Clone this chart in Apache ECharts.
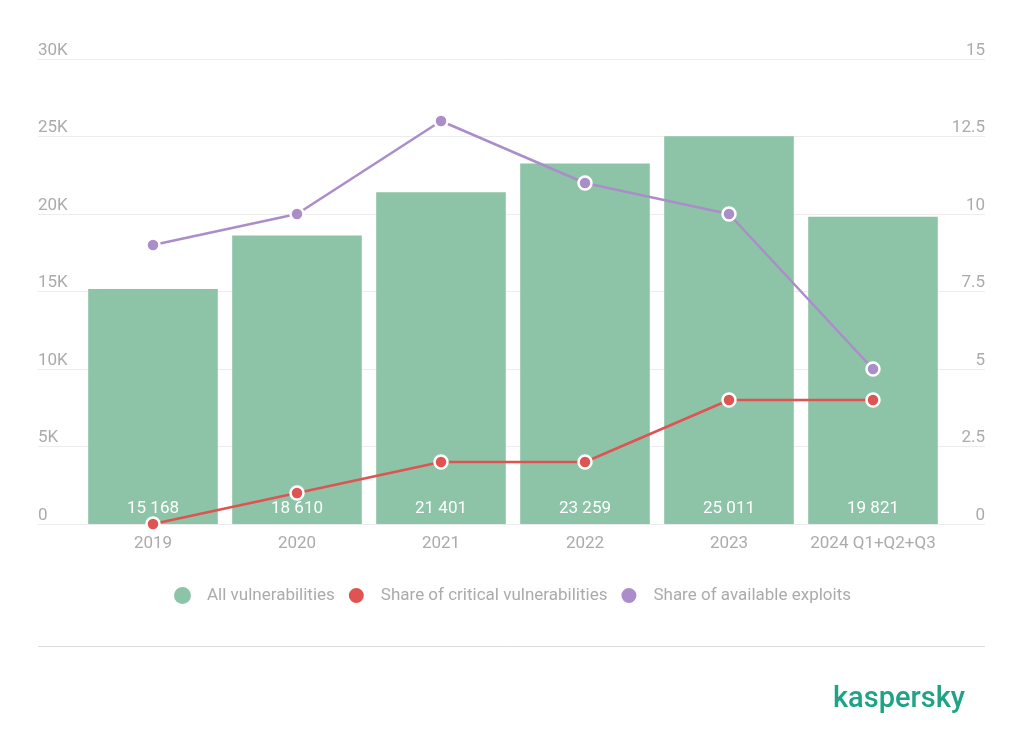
<!DOCTYPE html>
<html>
<head>
<meta charset="utf-8">
<script src="https://cdn.jsdelivr.net/npm/echarts@6/dist/echarts.min.js"></script>
<style>
html,body{margin:0;padding:0;background:#fff;}
#c{width:1024px;height:751px;}
</style>
</head>
<body>
<div id="c"></div>
<script>
const categories = ['2019', '2020', '2021', '2022', '2023', '2024 Q1+Q2+Q3'];
const allVulnerabilities = [15168, 18610, 21401, 23259, 25011, 19821];
const criticalShare = [0, 1, 2, 2, 4, 4];
const exploitsShare = [9, 10, 13, 11, 10, 5];
const seriesNames = ['All vulnerabilities', 'Share of critical vulnerabilities', 'Share of available exploits'];
const leftMax = 30000, leftInterval = 5000;
const rightMax = 15, rightInterval = 2.5;

const GREEN = '#8dc3a7', RED = '#e05353', PURPLE = '#ab8dca';
const LABEL = '#ababab';
const FONT = 'Roboto';

function fmtSpace(v) {
  return String(v).replace(/\B(?=(\d{3})+(?!\d))/g, ' ');
}

const chart = echarts.init(document.getElementById('c'), null, {renderer: 'canvas'});
chart.setOption({
  animation: false,
  backgroundColor: '#fff',
  textStyle: {fontFamily: FONT},
  grid: [
    {left: 38, right: 39, top: 59, bottom: 227},
    {left: 81, right: 79, top: 59, bottom: 227}
  ],
  xAxis: [
    {gridIndex: 0, type: 'category', data: categories, show: false},
    {
      gridIndex: 1, type: 'category', data: categories,
      axisLine: {show: false}, axisTick: {show: false},
      axisLabel: {color: LABEL, fontSize: 17, fontFamily: FONT, margin: 11, interval: 0}
    }
  ],
  yAxis: [
    {
      gridIndex: 0, type: 'value', min: 0, max: leftMax, interval: leftInterval, position: 'left',
      axisLine: {show: false}, axisTick: {show: false},
      splitLine: {lineStyle: {color: '#ececec', width: 1}},
      axisLabel: {
        inside: true, margin: 0, verticalAlign: 'bottom', lineHeight: 17, padding: [0, 0, 0, 0],
        color: LABEL, fontSize: 17, fontFamily: FONT,
        formatter: v => v === 0 ? '0' : (v / 1000) + 'K'
      }
    },
    {
      gridIndex: 0, type: 'value', min: 0, max: rightMax, interval: rightInterval, position: 'right',
      axisLine: {show: false}, axisTick: {show: false}, splitLine: {show: false},
      axisLabel: {
        inside: true, margin: 0, verticalAlign: 'bottom', lineHeight: 17, padding: [0, 0, 0, 0],
        color: LABEL, fontSize: 17, fontFamily: FONT,
        formatter: v => String(v)
      }
    },
    {gridIndex: 1, type: 'value', min: 0, max: leftMax, interval: leftInterval, show: false, splitLine: {show: false}},
    {gridIndex: 1, type: 'value', min: 0, max: rightMax, interval: rightInterval, show: false, splitLine: {show: false}}
  ],
  legend: {
    bottom: 141, left: 169,
    icon: 'circle', itemWidth: 17, itemHeight: 17, itemGap: 12,
    textStyle: {color: LABEL, fontSize: 17, fontFamily: FONT, padding: [0, 0, 0, 11]},
    data: seriesNames.map(n => ({name: n, icon: 'circle'}))
  },
  series: [
    {
      name: seriesNames[0], type: 'bar', xAxisIndex: 1, yAxisIndex: 2,
      data: allVulnerabilities, barCategoryGap: '10%',
      itemStyle: {color: GREEN},
      label: {
        show: true, position: 'insideBottom', distance: 7,
        color: '#fff', fontSize: 17, fontFamily: FONT,
        formatter: p => fmtSpace(p.value)
      },
      z: 2
    },
    {
      name: seriesNames[1], type: 'line', xAxisIndex: 1, yAxisIndex: 3,
      data: criticalShare, symbol: 'circle', symbolSize: 13,
      lineStyle: {color: RED, width: 2.5},
      itemStyle: {color: RED, borderColor: '#fff', borderWidth: 2.5},
      z: 4
    },
    {
      name: seriesNames[2], type: 'line', xAxisIndex: 1, yAxisIndex: 3,
      data: exploitsShare, symbol: 'circle', symbolSize: 13,
      lineStyle: {color: PURPLE, width: 2.5},
      itemStyle: {color: PURPLE, borderColor: '#fff', borderWidth: 2.5},
      z: 5
    }
  ],
  graphic: [
    {
      type: 'line', shape: {x1: 38, y1: 646.5, x2: 985, y2: 646.5},
      style: {stroke: '#dddddd', lineWidth: 1}
    },
    {
      type: 'text', right: 59, top: 685,
      style: {text: 'kaspersky', fill: '#1fa386', font: '500 29px ' + FONT}
    }
  ]
});
</script>
</body>
</html>
